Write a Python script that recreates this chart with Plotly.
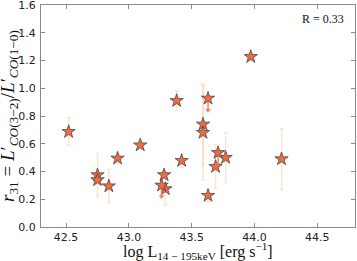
import plotly.graph_objects as go

# detections
log_lx = [42.52, 42.75, 42.75, 42.84, 42.91, 43.09, 43.28, 43.29, 43.38, 43.42,
          43.59, 43.59, 43.63, 43.69, 43.77, 43.97, 44.215]
r31 = [0.687, 0.375, 0.339, 0.295, 0.495, 0.59, 0.375, 0.274, 0.91, 0.478,
       0.74, 0.68, 0.226, 0.435, 0.50, 1.227, 0.49]
r31_err = [0.10, 0.155, 0.03, 0.12, 0.03, 0.02, 0.03, 0.115, 0.07, 0.05,
           0.29, 0.34, 0.045, 0.16, 0.18, 0.02, 0.22]

# upper limits
ul_lx = [43.26, 43.63, 43.71]
ul_r31 = [0.30, 0.927, 0.535]
ul_len = [0.08, 0.085, 0.085]

corr_label = "R = 0.33"
x_title = "log L<sub>14 − 195keV</sub> [erg s<sup>−1</sup>]"
y_title = "<i>r</i><sub>31</sub> = <i>L</i>′<sub><i>CO</i>(3−2)</sub>/<i>L</i>′<sub><i>CO</i>(1−0)</sub>"

star_fill = "#f26a3f"
star_edge = "#4a4a4a"
err_col = "rgba(252,205,175,0.55)"
arrow_col = "rgba(245,110,70,0.85)"

fig = go.Figure()

fig.add_trace(go.Scatter(
    x=log_lx, y=r31, mode="markers",
    error_y=dict(type="data", array=r31_err, color=err_col, thickness=1.5, width=2),
    marker=dict(symbol="star", size=10, color=star_fill, line=dict(color=star_edge, width=0.8)),
    showlegend=False, hoverinfo="skip",
))

# upper limit arrows
fig.add_trace(go.Scatter(
    x=ul_lx, y=ul_r31, mode="markers",
    error_y=dict(type="data", array=[0] * len(ul_lx), arrayminus=ul_len, symmetric=False,
                 color=arrow_col, thickness=1.5, width=0),
    marker=dict(size=0.1, color="rgba(0,0,0,0)"),
    showlegend=False, hoverinfo="skip",
))
fig.add_trace(go.Scatter(
    x=ul_lx, y=[v - l for v, l in zip(ul_r31, ul_len)], mode="markers",
    marker=dict(symbol="triangle-down", size=5, color=arrow_col),
    showlegend=False, hoverinfo="skip",
))
fig.add_trace(go.Scatter(
    x=ul_lx, y=ul_r31, mode="markers",
    marker=dict(symbol="star", size=10, color=star_fill, line=dict(color=star_edge, width=0.8)),
    showlegend=False, hoverinfo="skip",
))

axis_common = dict(
    showline=True, linecolor="#8a8a8a", linewidth=1, mirror="ticks", automargin=False,
    ticks="inside", ticklen=4, tickcolor="#8a8a8a", showgrid=False, zeroline=False,
    ticklabeloverflow="allow",
    tickfont=dict(family="DejaVu Sans", size=11, color="#222"),
)

fig.update_layout(
    width=357, height=261,
    margin=dict(l=41, r=2, t=5, b=34),
    paper_bgcolor="white", plot_bgcolor="white",
    xaxis=dict(range=[42.3, 44.8], tickvals=[42.5, 43.0, 43.5, 44.0, 44.5], tickformat=".1f",
               **axis_common),
    yaxis=dict(range=[0, 1.6], tickvals=[0, 0.2, 0.4, 0.6, 0.8, 1.0, 1.2, 1.4, 1.6], tickformat=".1f",
               ticklabelstandoff=2, **axis_common),
    annotations=[
        dict(text=corr_label, xref="paper", yref="paper", x=0.97, y=0.935,
             xanchor="right", yanchor="middle", showarrow=False,
             font=dict(family="Liberation Serif", size=12, color="#111")),
        dict(text=x_title, xref="paper", yref="paper", x=0.5, y=0, yshift=-24,
             xanchor="center", yanchor="middle", showarrow=False,
             font=dict(family="Liberation Serif", size=16, color="#111")),
        dict(text=y_title, xref="paper", yref="paper", x=0, y=0.5, xshift=-32,
             xanchor="center", yanchor="middle", textangle=-90, showarrow=False,
             font=dict(family="Liberation Serif", size=19, color="#111")),
    ],
)

fig.write_html("out.html", config={"displayModeBar": False},
               post_script="document.body.style.margin='0';")
